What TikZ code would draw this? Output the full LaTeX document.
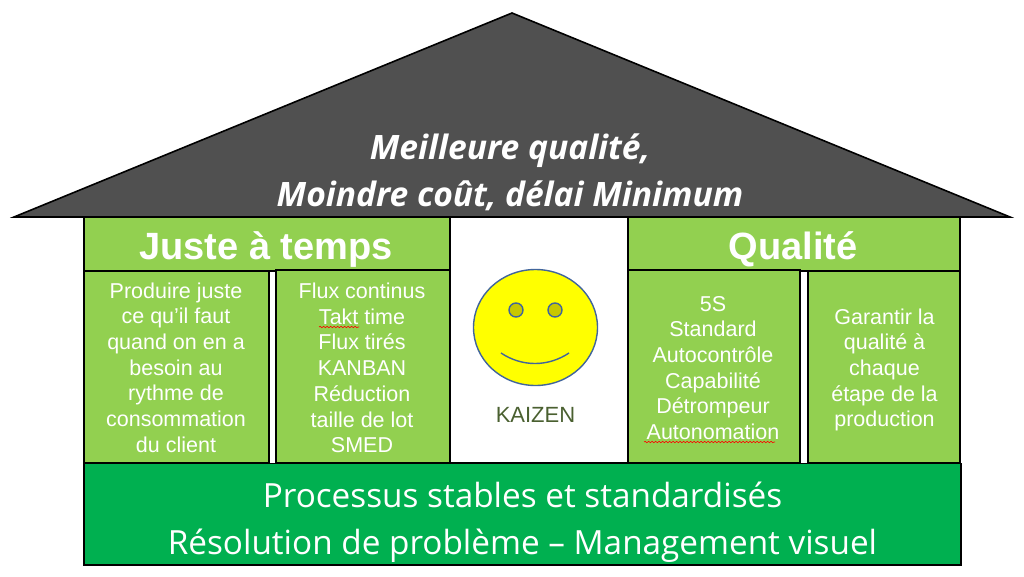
\documentclass[tikz,border=0pt]{standalone}
\usepackage{fontspec}
\setmainfont{Liberation Sans}
\newfontfamily\roofFont{Open Sans}
\usetikzlibrary{decorations.pathmorphing}
\definecolor{lightgreen}{HTML}{92D050}
\definecolor{basegreen}{HTML}{00B050}
\definecolor{roofgrey}{HTML}{505050}
\definecolor{kaizentext}{HTML}{4A6030}
\definecolor{faceblue}{HTML}{41659C}
\definecolor{eyeolive}{HTML}{C8C800}
\definecolor{faceyellow}{rgb}{1,1,0}
\tikzset{
  x=1pt,y=-1pt,
  panel/.style={draw=black,line width=1.6pt,fill=lightgreen,text=white},
  bodytext/.style={text=white,align=center,font=\fontsize{21.5}{25.7}\selectfont},
  headtext/.style={text=white,font=\bfseries\fontsize{38}{44}\selectfont},
  basetext/.style={text=white,align=center,font=\roofFont\fontsize{33.3}{46.5}\selectfont},
  rooftext/.style={text=white,align=center,font=\roofFont\bfseries\itshape\fontsize{33.6}{47}\selectfont},
  spell/.style={draw=red,line width=0.6pt,decorate,decoration={snake,amplitude=0.7pt,segment length=3.5pt}},
}
\begin{document}
\begin{tikzpicture}
\useasboundingbox (0,0) rectangle (1024,576);
% roof
\draw[fill=roofgrey,draw=black,line width=1.6pt,line join=miter] (14,217) -- (512,13) -- (1010,217) -- cycle;
\node[rooftext] (roof) at (510,172) {Meilleure qualité,\\Moindre coût, délai Minimum};
% centre
\draw[draw=black,line width=1.6pt,fill=white] (450,217) rectangle (628,463);
% headers
\draw[panel] (84,217) rectangle (450,271);
\draw[panel] (628,217) rectangle (960,271);
\node[headtext] (jat) at (266,249.5) {Juste à temps};
\node[headtext] (qual) at (793,249.5) {Qualité};
% pillars
\draw[panel] (84,271) rectangle (269,463);
\draw[panel] (276,270) rectangle (450,463);
\draw[panel] (628,270) rectangle (800,463);
\draw[panel] (808,271) rectangle (960,463);
\node[bodytext] (p1) at (176,367.5) {Produire juste\\ce qu’il faut\\quand on en a\\besoin au\\rythme de\\consommation\\du client};
\node[bodytext] (p2) at (362,368) {Flux continus\\Takt time\\Flux tirés\\KANBAN\\Réduction\\taille de lot\\SMED};
\node[bodytext] (p3) at (713,368) {5S\\Standard\\Autocontrôle\\Capabilité\\Détrompeur\\Autonomation};
\node[bodytext] (p4) at (884.5,370) {Garantir la\\qualité à\\chaque\\étape de la\\production};
% spelling marks
\draw[spell] (319,327) -- (359,327);
\draw[spell] (644,442) -- (775,442);
% face
\draw[draw=faceblue,line width=1.4pt,fill=faceyellow] (535.5,327.5) ellipse [x radius=62,y radius=58];
\draw[draw=faceblue,line width=1.4pt,fill=eyeolive] (516,310) circle [radius=7];
\draw[draw=faceblue,line width=1.4pt,fill=eyeolive] (555,310) circle [radius=7];
\draw[draw=faceblue,line width=1.4pt] (501,353) .. controls (522,367) and (548,367) .. (569,353);
\node[text=kaizentext,font=\fontsize{22}{26}\selectfont] (kaizen) at (535.5,415) {KAIZEN};
% base
\draw[draw=black,line width=1.6pt,fill=basegreen] (84,463.5) rectangle (961,565);
\node[basetext] (base) at (522.5,522) {Processus stables et standardisés\\Résolution de problème – Management visuel};
\end{tikzpicture}
\end{document}
